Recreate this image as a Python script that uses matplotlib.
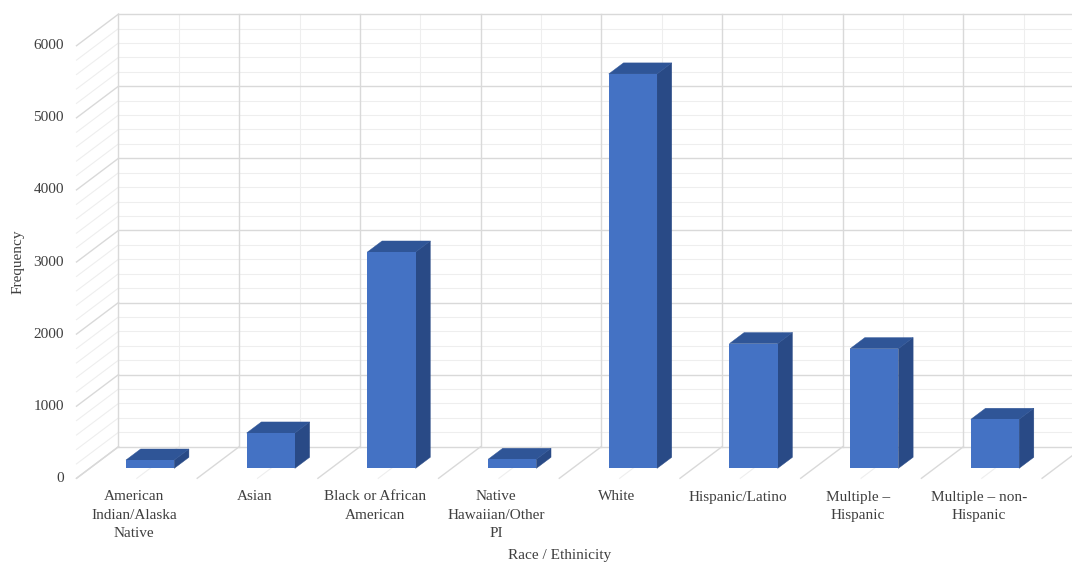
import matplotlib
matplotlib.use("Agg")
import matplotlib.pyplot as plt
from matplotlib.patches import Polygon
import numpy as np

# ---------------- data ----------------
categories = [
    "American\nIndian/Alaska\nNative",
    "Asian",
    "Black or African\nAmerican",
    "Native\nHawaiian/Other\nPI",
    "White",
    "Hispanic/Latino",
    "Multiple \u2013\nHispanic",
    "Multiple \u2013 non-\nHispanic",
]
frequencies = [115, 490, 3000, 125, 5470, 1730, 1660, 680]
y_ticks = [0, 1000, 2000, 3000, 4000, 5000, 6000]
x_title = "Race / Ethinicity"
y_title = "Frequency"

# ---------------- layout (pixel geometry of the pseudo-3D box) ----------------
W, H = 1072, 564
X0 = 76.5      # px of front-left floor corner
CAT = 120.7    # px per category
Y0 = 478.3     # px (from top) of value 0 on front plane
PXU = 0.0721   # px per value unit
DXP, DYP = 42.0, 31.6   # depth offset of back wall in px
DX = DXP / CAT
DY = DYP / PXU
YMAX = 6000
MINOR = 200
N = len(categories)

FONT = ["Liberation Serif", "DejaVu Serif"]
TXT = "#3F3F3F"
MAJ = "#D9D9D9"
MIN_C = "#EEEEEE"

fig = plt.figure(figsize=(W / 100, H / 100), dpi=100)
ax = fig.add_axes([0, 0, 1, 1])
ax.set_xlim(-X0 / CAT, (W - X0) / CAT)
ax.set_ylim((Y0 - H) / PXU, Y0 / PXU)
ax.axis("off")

# ---------------- walls & floor grid ----------------
values = np.arange(0, YMAX + 1, MINOR)
for v in values:
    major = v % 1000 == 0
    c = MAJ if major else MIN_C
    lw = 1.0 if major else 0.8
    z = 1.2 if major else 1.0
    # back wall horizontal
    ax.plot([DX, N + DX + 1], [v + DY, v + DY], color=c, lw=lw, zorder=z,
            solid_capstyle="butt")
    # left side wall diagonal
    ax.plot([0, DX], [v, v + DY], color=c, lw=lw, zorder=z)

for k in range(N + 1):
    # back wall verticals (category boundaries)
    ax.plot([k + DX, k + DX], [DY, YMAX + DY], color=MAJ, lw=1.0, zorder=1.2)
    # floor diagonals at boundaries
    ax.plot([k, k + DX], [0, DY], color=MAJ, lw=1.0, zorder=1.2)
    if k < N:
        # minor at category centres
        ax.plot([k + 0.5 + DX, k + 0.5 + DX], [DY, YMAX + DY], color=MIN_C,
                lw=0.8, zorder=1.0)
        ax.plot([k + 0.5, k + 0.5 + DX], [0, DY], color=MIN_C, lw=0.8,
                zorder=1.0)

# ---------------- bars ----------------
F0 = 0.315   # depth fraction of bar front face
D = 0.35     # depth fraction of bar
BW = 0.40    # bar width in category units
FRONT = "#4472C4"
TOP = "#2F5597"
SIDE = "#294A86"

xc = np.arange(N) + 0.5
fx = xc + F0 * DX
base = F0 * DY
ax.bar(fx, frequencies, width=BW, bottom=base, color=FRONT, zorder=3,
       linewidth=0)
for x, v in zip(fx, frequencies):
    xl, xr = x - BW / 2, x + BW / 2
    ddx, ddy = D * DX, D * DY
    top = Polygon([(xl, base + v), (xr, base + v),
                   (xr + ddx, base + v + ddy), (xl + ddx, base + v + ddy)],
                  closed=True, facecolor=TOP, edgecolor=TOP, lw=0.3, zorder=2.5)
    side = Polygon([(xr, base), (xr + ddx, base + ddy),
                    (xr + ddx, base + v + ddy), (xr, base + v)],
                   closed=True, facecolor=SIDE, edgecolor=SIDE, lw=0.3, zorder=2.5)
    ax.add_patch(side)
    ax.add_patch(top)

# ---------------- texts ----------------
tick_x = (64 - X0) / CAT
for t in y_ticks:
    ax.text(tick_x, t, f"{t}", ha="right", va="center", fontsize=11,
            family=FONT, color=TXT)

lab_y = (Y0 - 490.5) / PXU
for i, lab in enumerate(categories):
    ax.text(i + 0.5 - 3 / CAT, lab_y, lab, ha="center", va="top",
            multialignment="center", fontsize=11, family=FONT, color=TXT,
            linespacing=1.53)

ax.text((560 - X0) / CAT, (Y0 - 556) / PXU, x_title, ha="center", va="center",
        fontsize=11, family=FONT, color=TXT)
ax.text((18 - X0) / CAT, (Y0 - 262) / PXU, y_title, ha="center", va="center",
        rotation=90, fontsize=11, family=FONT, color=TXT)

fig.savefig("out.png", dpi=100)
